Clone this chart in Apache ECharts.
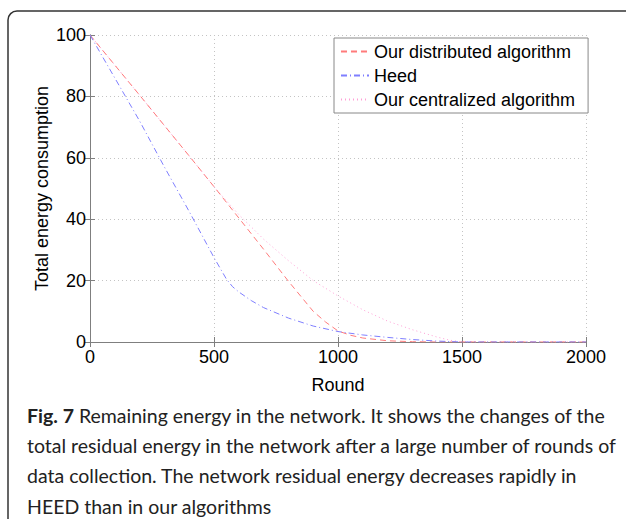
<!DOCTYPE html>
<html>
<head>
<meta charset="utf-8">
<script src="https://cdn.jsdelivr.net/npm/echarts@6/dist/echarts.min.js"></script>
<style>
html,body{margin:0;padding:0;background:#fff;}
#chart{width:626px;height:519px;}
</style>
</head>
<body>
<div id="chart"></div>
<script>
// ---- data ----
const seriesNames = ['Our distributed algorithm', 'Heed', 'Our centralized algorithm'];
const xTicks = [0, 500, 1000, 1500, 2000];
const yTicks = [0, 20, 40, 60, 80, 100];

const distRounds = [0,100,200,300,400,500,600,700,800,900,950,1000,1050,1100,1200,1300,1400,1500,2000];
const distValues = [100,90.2,80.4,70.5,60.6,50.6,40.4,30.2,19.8,10,6.5,3.6,2.2,1.3,0.4,0.1,0,0,0];

const heedRounds = [0,100,200,300,400,500,550,575,600,650,700,800,900,1000,1100,1200,1300,1400,1500,2000];
const heedValues = [100,86,72,57,42.5,27.5,20.5,18,16.3,13.5,11.2,7.8,5.2,3.4,2.3,1.5,0.8,0.3,0,0];

const centRounds = [0,100,200,300,400,500,550,600,700,800,900,1000,1100,1200,1300,1400,1450,1500,2000];
const centValues = [100,90.2,80.4,70.5,60.6,50.6,46,41.5,33.5,26.5,20,15,10.5,6.8,4,1.6,0.6,0,0];

const captionBold = 'Fig. 7';
const captionLines = [
  ' Remaining energy in the network. It shows the changes of the',
  'total residual energy in the network after a large number of rounds of',
  'data collection. The network residual energy decreases rapidly in',
  'HEED than in our algorithms'
];

function pairs(xs, ys) { return xs.map((x, i) => [x, ys[i]]); }

const chart = echarts.init(document.getElementById('chart'), null, {renderer: 'svg'});
const FONT = '"Liberation Sans", Arial, Helvetica, sans-serif';
const axisGray = '#7f7f7f';
const gridGray = '#c4c4c4';
const plain = v => String(v);

const option = {
  backgroundColor: '#fff',
  animation: false,
  textStyle: {fontFamily: FONT},
  grid: {left: 90, right: 40, top: 35, bottom: 177, containLabel: false},
  legend: {
    orient: 'vertical',
    left: 334, top: 38,
    padding: [4, 13, 4, 6],
    itemGap: 5,
    itemWidth: 28, itemHeight: 14,
    backgroundColor: '#fff',
    borderColor: '#888', borderWidth: 1,
    itemStyle: {opacity: 0},
    textStyle: {fontSize: 18, color: '#000', fontFamily: FONT, lineHeight: 19},
    data: seriesNames
  },
  xAxis: [{
    type: 'value', min: xTicks[0], max: xTicks[xTicks.length - 1], interval: 500,
    name: 'Round', nameLocation: 'middle', nameGap: 34, nameMoveOverlap: false,
    nameTextStyle: {fontSize: 18, color: '#000', fontFamily: FONT},
    axisLine: {lineStyle: {color: axisGray, width: 1}},
    axisTick: {inside: true, length: 5, lineStyle: {color: axisGray}},
    axisLabel: {fontSize: 18, color: '#000', margin: 6, fontFamily: FONT, formatter: plain},
    splitLine: {show: true, lineStyle: {color: gridGray, type: [1, 3], width: 1}}
  }, {
    type: 'value', position: 'top', min: xTicks[0], max: xTicks[xTicks.length - 1], interval: 500,
    axisLine: {show: true, lineStyle: {color: axisGray, width: 1}},
    axisTick: {show: true, inside: true, length: 5, lineStyle: {color: axisGray}},
    axisLabel: {show: false}, splitLine: {show: false}
  }],
  yAxis: [{
    type: 'value', min: yTicks[0], max: yTicks[yTicks.length - 1], interval: 20,
    name: 'Total energy consumption', nameLocation: 'middle', nameGap: 39, nameMoveOverlap: false,
    nameTextStyle: {fontSize: 18, color: '#000', fontFamily: FONT},
    axisLine: {show: true, lineStyle: {color: axisGray, width: 1}},
    axisTick: {show: true, inside: true, length: 5, lineStyle: {color: axisGray}},
    axisLabel: {fontSize: 18, color: '#000', margin: 4, fontFamily: FONT, formatter: plain},
    splitLine: {show: true, lineStyle: {color: gridGray, type: [1, 3], width: 1}}
  }, {
    type: 'value', position: 'right', min: yTicks[0], max: yTicks[yTicks.length - 1], interval: 20,
    axisLine: {show: true, lineStyle: {color: axisGray, width: 1}},
    axisTick: {show: true, inside: true, length: 5, lineStyle: {color: axisGray}},
    axisLabel: {show: false}, splitLine: {show: false}
  }],
  series: [{
    name: seriesNames[2], type: 'line', symbol: 'none', z: 2,
    data: pairs(centRounds, centValues),
    itemStyle: {color: '#ff9fd6'},
    lineStyle: {color: '#ff9fd6', width: 1, type: [1, 3]}
  }, {
    name: seriesNames[0], type: 'line', symbol: 'none', z: 3,
    data: pairs(distRounds, distValues),
    itemStyle: {color: '#ff7b7b'},
    lineStyle: {color: '#ff7b7b', width: 1, type: [6, 4]}
  }, {
    name: seriesNames[1], type: 'line', symbol: 'none', z: 4,
    data: pairs(heedRounds, heedValues),
    itemStyle: {color: '#7f7fff'},
    lineStyle: {color: '#7f7fff', width: 1, type: [6, 3, 1, 3]}
  }],
  graphic: [{
    type: 'rect', silent: true, z: -1,
    shape: {x: 8, y: 11, width: 700, height: 600, r: 9},
    style: {fill: 'none', stroke: '#333', lineWidth: 1.5}
  }, {
    type: 'text', left: 27, top: 400, silent: true,
    style: {
      text: '{b|' + captionBold + '}' + captionLines[0] + '\n' + captionLines.slice(1).join('\n'),
      fontFamily: 'Lato, "Open Sans", sans-serif', fontSize: 19.5, lineHeight: 30.3, fill: '#222',
      rich: {b: {fontFamily: 'Lato, "Open Sans", sans-serif', fontWeight: 'bold', fontSize: 19.5, lineHeight: 30.3, fill: '#222'}}
    }
  }]
};
chart.setOption(option);
</script>
</body>
</html>
